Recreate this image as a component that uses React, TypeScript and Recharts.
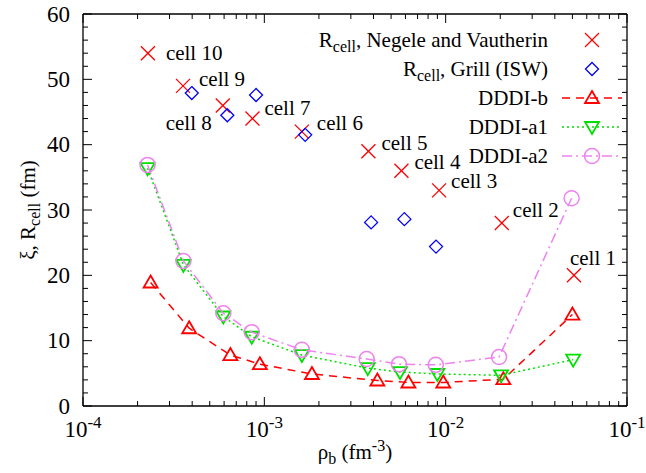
import React from 'react';
import { ScatterChart, Scatter, XAxis, YAxis, Legend, LabelList, Label } from 'recharts';

// ---------- data ----------
const cellLabels = ['cell 10', 'cell 9', 'cell 8', 'cell 7', 'cell 6', 'cell 5', 'cell 4', 'cell 3', 'cell 2', 'cell 1'];
const negeleRho = [2.28e-4, 3.56e-4, 5.9e-4, 8.6e-4, 1.61e-3, 3.75e-3, 5.7e-3, 9.2e-3, 2.04e-2, 5.1e-2];
const negeleR = [54, 49, 46, 44, 42, 39, 36, 33, 28, 20];

const grillRho = [3.98e-4, 6.25e-4, 9.0e-4, 1.68e-3, 3.88e-3, 5.92e-3, 8.85e-3];
const grillR = [47.9, 44.5, 47.6, 41.5, 28.1, 28.6, 24.4];

const dddiBRho = [2.36e-4, 3.85e-4, 6.5e-4, 9.45e-4, 1.83e-3, 4.2e-3, 6.23e-3, 9.7e-3, 2.08e-2, 5.0e-2];
const dddiBXi = [18.9, 11.9, 7.8, 6.4, 4.9, 3.9, 3.6, 3.6, 4.1, 14.0];

const dddiA1Rho = [2.27e-4, 3.58e-4, 5.94e-4, 8.52e-4, 1.61e-3, 3.72e-3, 5.6e-3, 9.0e-3, 2.02e-2, 5.05e-2];
const dddiA1Xi = [36.4, 21.6, 13.7, 10.6, 7.8, 5.8, 5.2, 4.9, 4.7, 7.1];

const dddiA2Rho = [2.27e-4, 3.58e-4, 5.94e-4, 8.52e-4, 1.61e-3, 3.67e-3, 5.53e-3, 8.82e-3, 1.97e-2, 4.95e-2];
const dddiA2Xi = [36.9, 22.2, 14.2, 11.3, 8.6, 7.2, 6.4, 6.3, 7.5, 31.8];

const seriesNames = [
  'Rcell, Negele and Vautherin',
  'Rcell, Grill (ISW)',
  'DDDI-b',
  'DDDI-a1',
  'DDDI-a2',
];

const xMajorTicks = [1e-4, 1e-3, 1e-2, 1e-1];
const yMajorTicks = [0, 10, 20, 30, 40, 50, 60];

// ---------- derived ----------
const zip = (xs: number[], ys: number[], labels?: string[]) =>
  xs.map((x, i) => ({ x, y: ys[i], label: labels ? labels[i] : undefined }));

const negeleData = zip(negeleRho, negeleR, cellLabels);
const grillData = zip(grillRho, grillR);
const dddiBData = zip(dddiBRho, dddiBXi);
const dddiA1Data = zip(dddiA1Rho, dddiA1Xi);
const dddiA2Data = zip(dddiA2Rho, dddiA2Xi);

const xTicks: number[] = [];
xMajorTicks.forEach((d, i) => {
  xTicks.push(d);
  if (i < xMajorTicks.length - 1) for (let k = 2; k <= 9; k++) xTicks.push(+(d * k).toPrecision(3));
});
const yTicks: number[] = [];
for (let v = yMajorTicks[0]; v <= yMajorTicks[yMajorTicks.length - 1]; v += 2) yTicks.push(v);

// ---------- style ----------
const FONT = "'Liberation Serif', 'DejaVu Serif', serif";
const TXT = { fontFamily: FONT };
const FS = 21; // body text
const FSS = 16; // sub/superscripts
const TFS = 23; // tick labels
const TFSS = 17;
const RED = '#ff0000';
const BLUE = '#0000ff';
const GREEN = '#00e000';
const VIOLET = '#ee82ee';
const W = 646;
const H = 473;
const MAJ = 9;
const MIN = 5;

const isDecade = (v: number) => Math.abs(Math.log10(v) - Math.round(Math.log10(v))) < 1e-6;

// ---------- markers ----------
const XMark = ({ cx, cy, color }: any) => (
  <g stroke={color} strokeWidth={1.3} fill="none">
    <line x1={cx - 7} y1={cy - 7} x2={cx + 7} y2={cy + 7} />
    <line x1={cx - 7} y1={cy + 7} x2={cx + 7} y2={cy - 7} />
  </g>
);
const Diamond = ({ cx, cy, color }: any) => (
  <polygon points={`${cx},${cy - 6.5} ${cx + 6.5},${cy} ${cx},${cy + 6.5} ${cx - 6.5},${cy}`} stroke={color} strokeWidth={1.3} fill="none" />
);
const TriUp = ({ cx, cy, color }: any) => (
  <polygon points={`${cx},${cy - 7} ${cx + 7},${cy + 5} ${cx - 7},${cy + 5}`} stroke={color} strokeWidth={1.8} fill="none" />
);
const TriDown = ({ cx, cy, color }: any) => (
  <polygon points={`${cx},${cy + 7} ${cx + 7},${cy - 5} ${cx - 7},${cy - 5}`} stroke={color} strokeWidth={1.8} fill="none" />
);
const Circ = ({ cx, cy, color }: any) => (
  <circle cx={cx} cy={cy} r={7.5} stroke={color} strokeWidth={1.5} fill="none" />
);

// ---------- ticks ----------
const BottomTick = (p: any) => {
  const { x, y, payload } = p;
  const v = payload.value;
  const major = isDecade(v);
  const exp = Math.round(Math.log10(v));
  return (
    <g>
      <line x1={x} x2={x} y1={y} y2={y - (major ? MAJ : MIN)} stroke="#000" strokeWidth={1} />
      {major && (
        <text x={x} y={y + 31} textAnchor="middle" style={TXT} fontSize={TFS} fill="#000">
          10<tspan dy={-9} fontSize={TFSS}>{`${exp}`}</tspan>
        </text>
      )}
    </g>
  );
};
const TopTick = (p: any) => {
  const { x, y, payload } = p;
  const major = isDecade(payload.value);
  return <line x1={x} x2={x} y1={y} y2={y + (major ? MAJ : MIN)} stroke="#000" strokeWidth={1} />;
};
const LeftTick = (p: any) => {
  const { x, y, payload } = p;
  const v = payload.value;
  const major = v % 10 === 0;
  return (
    <g>
      <line x1={x} x2={x + (major ? MAJ : MIN)} y1={y} y2={y} stroke="#000" strokeWidth={1} />
      {major && (
        <text x={x - 13} y={y + 7.5} textAnchor="end" style={TXT} fontSize={TFS} fill="#000">
          {v}
        </text>
      )}
    </g>
  );
};
const RightTick = (p: any) => {
  const { x, y, payload } = p;
  const major = payload.value % 10 === 0;
  return <line x1={x} x2={x - (major ? MAJ : MIN)} y1={y} y2={y} stroke="#000" strokeWidth={1} />;
};

// ---------- axis titles ----------
const YTitle = (p: any) => {
  const vb = p.viewBox;
  const cx = vb.x + vb.width - 48;
  const cy = vb.y + vb.height / 2;
  return (
    <text x={cx} y={cy} transform={`rotate(-90 ${cx} ${cy})`} textAnchor="middle" style={TXT} fontSize={FS} fill="#000">
      ξ, R<tspan dy={5} fontSize={FSS}>cell</tspan>
      <tspan dy={-5}> (fm)</tspan>
    </text>
  );
};
const XTitle = (p: any) => {
  const vb = p.viewBox;
  const cx = vb.x + vb.width / 2;
  const cy = vb.y + 53;
  return (
    <text x={cx} y={cy} textAnchor="middle" style={TXT} fontSize={FS} fill="#000">
      ρ<tspan dy={5} fontSize={FSS}>b</tspan>
      <tspan dy={-5}> (fm</tspan>
      <tspan dy={-8} fontSize={FSS}>-3</tspan>
      <tspan dy={8}>)</tspan>
    </text>
  );
};

// ---------- cell labels ----------
const cellLabelPlacement = [
  { dx: 18, dy: 0, anchor: 'start' },
  { dx: 16, dy: -7, anchor: 'start' },
  { dx: -11, dy: 18, anchor: 'end' },
  { dx: 12, dy: -11, anchor: 'start' },
  { dx: 15, dy: -9, anchor: 'start' },
  { dx: 13, dy: -8, anchor: 'start' },
  { dx: 13, dy: -9, anchor: 'start' },
  { dx: 12, dy: -9, anchor: 'start' },
  { dx: 11, dy: -13, anchor: 'start' },
  { dx: -4, dy: -17, anchor: 'start' },
];
const CellLabel = (p: any) => {
  const vb = p.viewBox && p.viewBox.x !== undefined ? p.viewBox : p;
  const cx = vb.x + (vb.width || 0) / 2;
  const cy = vb.y + (vb.height || 0) / 2;
  const pl = cellLabelPlacement[p.index] || { dx: 12, dy: 0, anchor: 'start' };
  return (
    <text x={cx + pl.dx} y={cy + pl.dy + 7} textAnchor={pl.anchor} style={TXT} fontSize={FS} fill="#000">
      {p.value}
    </text>
  );
};

// ---------- legend ----------
const legendRows = [
  { name: seriesNames[0], color: RED, Shape: XMark, dash: null },
  { name: seriesNames[1], color: BLUE, Shape: Diamond, dash: null },
  { name: seriesNames[2], color: RED, Shape: TriUp, dash: '8 6' },
  { name: seriesNames[3], color: GREEN, Shape: TriDown, dash: '2 3' },
  { name: seriesNames[4], color: VIOLET, Shape: Circ, dash: '10 4 2 4' },
];
const LegendContent = () => (
  <div style={{ position: 'relative', width: 0, height: 0 }}>
    <svg width={W} height={180} style={{ position: 'absolute', left: 0, top: 0, overflow: 'visible', pointerEvents: 'none' }}>
      {legendRows.map((r, i) => {
        const cy = 40 + i * 29;
        const isCell = r.name.startsWith('Rcell');
        return (
          <g key={i}>
            <text x={548} y={cy + 7} textAnchor="end" style={TXT} fontSize={FS} fill="#000">
              {isCell ? (
                <>
                  R<tspan dy={5} fontSize={FSS}>cell</tspan>
                  <tspan dy={-5}>{r.name.slice(5)}</tspan>
                </>
              ) : (
                r.name
              )}
            </text>
            {r.dash && <line x1={562} x2={622} y1={cy} y2={cy} stroke={r.color} strokeWidth={1.5} strokeDasharray={r.dash} />}
            <r.Shape cx={592} cy={cy} color={r.color} />
          </g>
        );
      })}
    </svg>
  </div>
);

export default function App() {
  return (
    <div style={{ position: 'absolute', left: 0, top: 0, width: W, height: H, background: '#fff', overflow: 'hidden' }}>
      <ScatterChart width={W} height={H} margin={{ top: 8, right: 0, bottom: 0, left: 8 }}>
        <XAxis
          xAxisId="b"
          type="number"
          dataKey="x"
          scale="log"
          domain={[1e-4, 1e-1]}
          allowDataOverflow
          ticks={xTicks}
          interval={0}
          tickSize={0}
          tickMargin={0}
          tickLine={false}
          tick={BottomTick}
          height={67}
          orientation="bottom"
          axisLine={{ stroke: '#000', strokeWidth: 1.3 }}
        >
          <Label content={XTitle} />
        </XAxis>
        <XAxis
          xAxisId="t"
          type="number"
          dataKey="x"
          scale="log"
          domain={[1e-4, 1e-1]}
          allowDataOverflow
          ticks={xTicks}
          interval={0}
          tickSize={0}
          tickMargin={0}
          tickLine={false}
          tick={TopTick}
          height={6}
          orientation="top"
          axisLine={{ stroke: '#000', strokeWidth: 1.3 }}
        />
        <YAxis
          yAxisId="l"
          type="number"
          dataKey="y"
          domain={[0, 60]}
          allowDataOverflow
          ticks={yTicks}
          interval={0}
          tickSize={0}
          tickMargin={0}
          tickLine={false}
          tick={LeftTick}
          width={75}
          orientation="left"
          axisLine={{ stroke: '#000', strokeWidth: 1.3 }}
        >
          <Label content={YTitle} />
        </YAxis>
        <YAxis
          yAxisId="r"
          type="number"
          dataKey="y"
          domain={[0, 60]}
          allowDataOverflow
          ticks={yTicks}
          interval={0}
          tickSize={0}
          tickMargin={0}
          tickLine={false}
          tick={RightTick}
          width={19}
          orientation="right"
          axisLine={{ stroke: '#000', strokeWidth: 1.3 }}
        />
        <Legend content={LegendContent} wrapperStyle={{ top: 0, left: 0, width: 0, height: 0 }} />
        <Scatter
          name={seriesNames[0]}
          data={negeleData}
          xAxisId="b"
          yAxisId="l"
          isAnimationActive={false}
          shape={(p: any) => <XMark cx={p.cx} cy={p.cy} color={RED} />}
        >
          <LabelList dataKey="label" content={CellLabel} />
        </Scatter>
        <Scatter
          name={seriesNames[1]}
          data={grillData}
          xAxisId="b"
          yAxisId="l"
          isAnimationActive={false}
          shape={(p: any) => <Diamond cx={p.cx} cy={p.cy} color={BLUE} />}
        />
        <Scatter
          name={seriesNames[2]}
          data={dddiBData}
          xAxisId="b"
          yAxisId="l"
          isAnimationActive={false}
          line={{ stroke: RED, strokeWidth: 1.5, strokeDasharray: '8 6' }}
          lineType="joint"
          shape={(p: any) => <TriUp cx={p.cx} cy={p.cy} color={RED} />}
        />
        <Scatter
          name={seriesNames[3]}
          data={dddiA1Data}
          xAxisId="b"
          yAxisId="l"
          isAnimationActive={false}
          line={{ stroke: GREEN, strokeWidth: 1.5, strokeDasharray: '2 3' }}
          lineType="joint"
          shape={(p: any) => <TriDown cx={p.cx} cy={p.cy} color={GREEN} />}
        />
        <Scatter
          name={seriesNames[4]}
          data={dddiA2Data}
          xAxisId="b"
          yAxisId="l"
          isAnimationActive={false}
          line={{ stroke: VIOLET, strokeWidth: 1.5, strokeDasharray: '10 4 2 4' }}
          lineType="joint"
          shape={(p: any) => <Circ cx={p.cx} cy={p.cy} color={VIOLET} />}
        />
      </ScatterChart>
    </div>
  );
}
